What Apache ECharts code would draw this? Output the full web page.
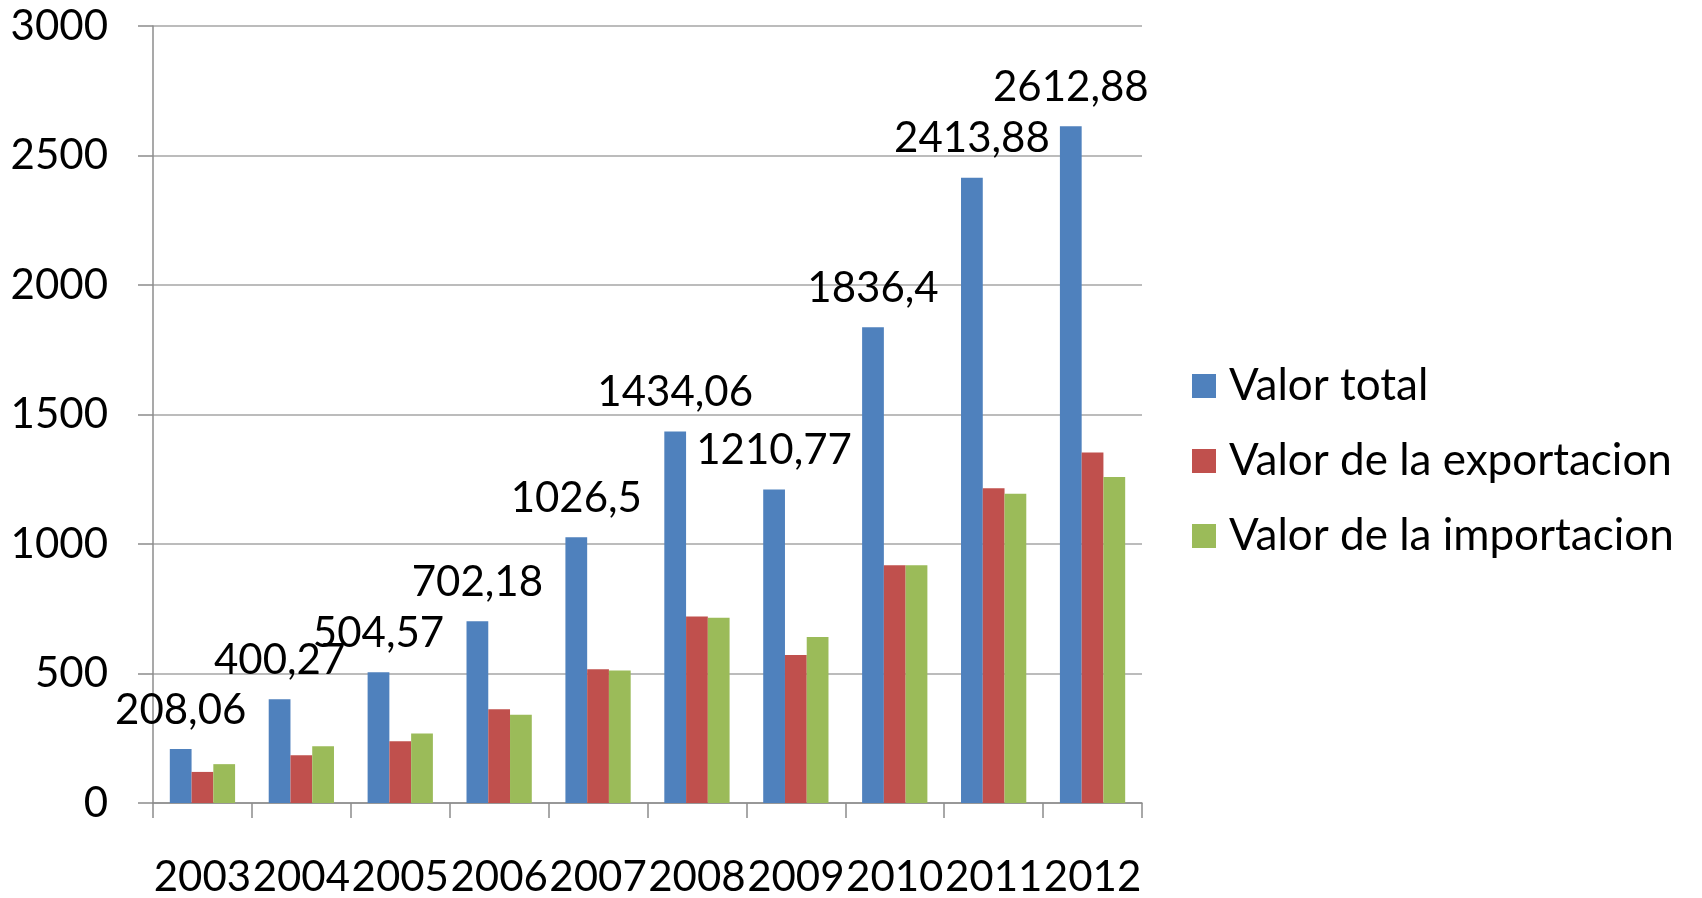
<!DOCTYPE html>
<html>
<head>
<meta charset="utf-8">
<script src="https://cdn.jsdelivr.net/npm/echarts@6/dist/echarts.min.js"></script>
<style>
html,body{margin:0;padding:0;background:#fff;}
#c{width:1702px;height:898px;}
</style>
</head>
<body>
<div id="c"></div>
<script>
const categories = ['2003','2004','2005','2006','2007','2008','2009','2010','2011','2012'];
const valorTotal = [208.06, 400.27, 504.57, 702.18, 1026.5, 1434.06, 1210.77, 1836.4, 2413.88, 2612.88];
const valorExportacion = [120, 184, 238, 362, 516, 720, 571, 918, 1215, 1353];
const valorImportacion = [150, 219, 268, 341, 512, 715, 641, 918, 1194, 1259];
const seriesNames = ['Valor total', 'Valor de la exportacion', 'Valor de la importacion'];
const yTicks = [0, 500, 1000, 1500, 2000, 2500, 3000];

const FONT = 'Lato';
const chart = echarts.init(document.getElementById('c'), null, {renderer: 'canvas'});
const fmt = v => String(v).replace('.', ',');

chart.setOption({
  animation: false,
  backgroundColor: '#ffffff',
  textStyle: {fontFamily: FONT, color: '#000'},
  grid: {left: 153, right: 560, top: 26, bottom: 95, containLabel: false},
  legend: {
    orient: 'vertical',
    left: 1192,
    top: 364,
    padding: 0,
    itemWidth: 24,
    itemHeight: 24,
    itemGap: 31,
    icon: 'rect',
    textStyle: {fontFamily: FONT, fontSize: 44, color: '#000', lineHeight: 44, padding: [0, 0, 0, 8]},
    data: seriesNames
  },
  xAxis: {
    type: 'category',
    data: categories,
    boundaryGap: true,
    axisLine: {show: true, lineStyle: {color: '#8c8c8c', width: 1.5}},
    axisTick: {show: true, length: 15, alignWithLabel: false, lineStyle: {color: '#8c8c8c', width: 1.5}},
    axisLabel: {interval: 0, hideOverlap: false, margin: 53, fontFamily: FONT, fontSize: 42, color: '#000', lineHeight: 42},
    splitLine: {show: false}
  },
  yAxis: {
    type: 'value',
    min: yTicks[0],
    max: yTicks[yTicks.length - 1],
    interval: 500,
    axisLine: {show: true, lineStyle: {color: '#8c8c8c', width: 1.5}},
    axisTick: {show: true, length: 15, lineStyle: {color: '#8c8c8c', width: 1.5}},
    axisLabel: {margin: 45, fontFamily: FONT, fontSize: 42, color: '#000', lineHeight: 42,
                formatter: v => String(v)},
    splitLine: {show: true, lineStyle: {color: '#a6a6a6', width: 1.5}}
  },
  series: [
    {
      name: seriesNames[0], type: 'bar', data: valorTotal,
      barGap: '0%', barCategoryGap: '34%',
      itemStyle: {color: '#4F81BD'},
      label: {show: true, position: 'top', distance: 18, formatter: p => fmt(p.value),
              fontFamily: FONT, fontSize: 42, color: '#000', lineHeight: 42}
    },
    {
      name: seriesNames[1], type: 'bar', data: valorExportacion,
      barGap: '0%', barCategoryGap: '34%',
      itemStyle: {color: '#C0504D'}
    },
    {
      name: seriesNames[2], type: 'bar', data: valorImportacion,
      barGap: '0%', barCategoryGap: '34%',
      itemStyle: {color: '#9BBB59'}
    }
  ]
});
</script>
</body>
</html>
